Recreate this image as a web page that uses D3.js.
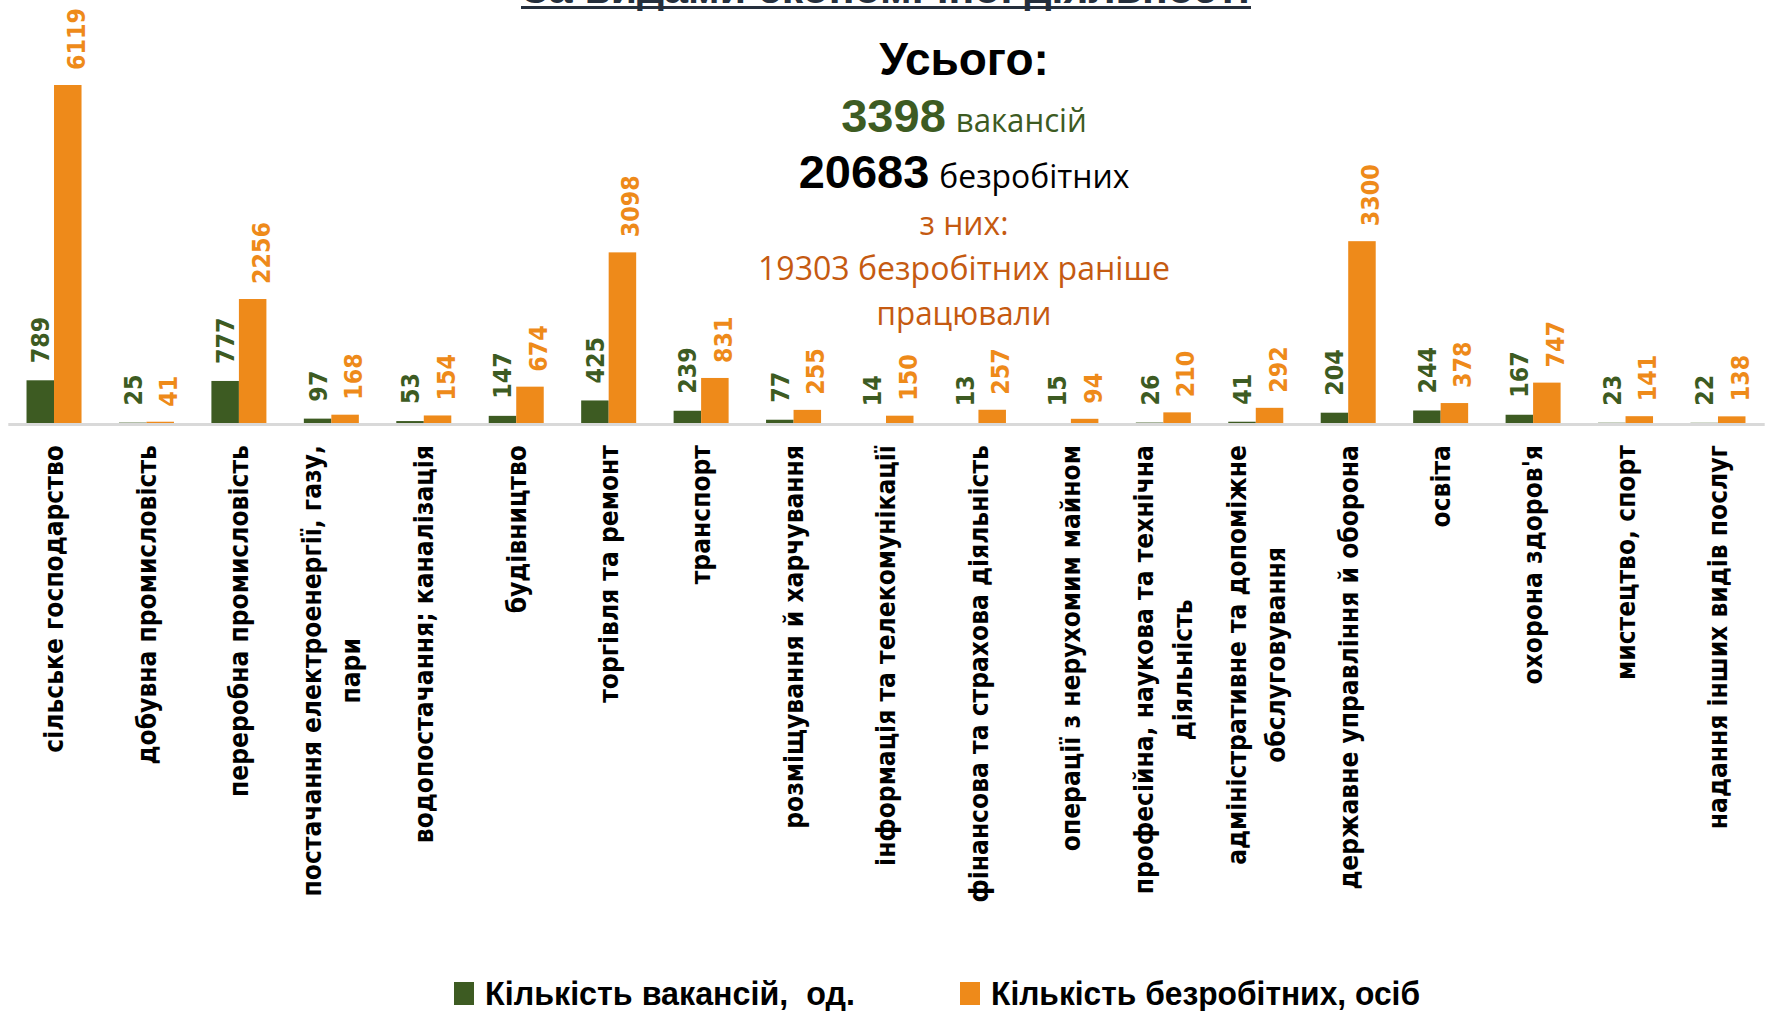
<!DOCTYPE html>
<html>
<head>
<meta charset="utf-8">
<script src="https://cdn.jsdelivr.net/npm/d3@7"></script>
<style>
  body { margin: 0; background: #fff; }
  svg { display: block; }
</style>
</head>
<body>
<div id="chart"></div>
<script>
// data
const categories = [
  "сільське господарство",
  "добувна промисловість",
  "переробна промисловість",
  "постачання електроенергії, газу,\nпари",
  "водопостачання; каналізація",
  "будівництво",
  "торгівля та ремонт",
  "транспорт",
  "розміщування й харчування",
  "інформація та телекомунікації",
  "фінансова та страхова діяльність",
  "операції з нерухомим майном",
  "професійна, наукова та технічна\nдіяльність",
  "адміністративне та допоміжне\nобслуговування",
  "державне управління й оборона",
  "освіта",
  "охорона здоров'я",
  "мистецтво, спорт",
  "надання інших видів послуг"
];
const vacancies = [789, 25, 777, 97, 53, 147, 425, 239, 77, 14, 13, 15, 26, 41, 204, 244, 167, 23, 22];
const unemployed = [6119, 41, 2256, 168, 154, 674, 3098, 831, 255, 150, 257, 94, 210, 292, 3300, 378, 747, 141, 138];
const seriesNames = ["Кількість вакансій,  од.", "Кількість безробітних, осіб"];

const totalVacancies = 3398;
const totalUnemployed = 20683;
const previouslyWorked = 19303;
const title = "За видами економічної діяльності";

const W = 1774, H = 1011;
const colors = ["#3d5b22", "#ee8a1a"];
const orangeDark = "#c55a11";
const series = [vacancies, unemployed];

const svg = d3.select("#chart").append("svg")
  .attr("width", W)
  .attr("height", H)
  .style("background", "#fff");

const baseY = 424;
const x0 = d3.scaleBand()
  .domain(d3.range(categories.length))
  .range([7.8, 1764.2])
  .paddingInner(0.405)
  .paddingOuter(0.2025);
const x1 = d3.scaleBand()
  .domain([0, 1])
  .range([0, x0.bandwidth()]);
const y = d3.scaleLinear()
  .domain([0, 7000])
  .range([baseY, baseY - 7000 * 0.0554]);

// title, mostly cut off by the top edge
svg.append("text")
  .attr("x", 886)
  .attr("y", 3)
  .attr("text-anchor", "middle")
  .attr("textLength", 728)
  .attr("lengthAdjust", "spacingAndGlyphs")
  .style("font-family", "'Liberation Sans', Arial, sans-serif")
  .style("font-weight", "bold")
  .style("font-size", "40px")
  .style("fill", "#252f3c")
  .text(title);
svg.append("rect")
  .attr("x", 521).attr("y", 6)
  .attr("width", 730).attr("height", 3)
  .attr("fill", "#252f3c");

// bars
series.forEach((vals, s) => {
  svg.append("g").selectAll("rect")
    .data(vals)
    .join("rect")
    .attr("x", (d, i) => x0(i) + x1(s))
    .attr("y", d => y(d))
    .attr("width", x1.bandwidth())
    .attr("height", d => baseY - y(d))
    .attr("fill", colors[s]);
});

// axis line
const axis = svg.append("g")
  .attr("transform", `translate(0,${baseY})`)
  .call(d3.axisBottom(x0).tickSize(0).tickSizeOuter(0).tickFormat(""));
axis.select(".domain")
  .attr("stroke", "#d9d9d9")
  .attr("stroke-width", 3);

// value labels
const labelDx = [0, 8];
const labelGap = [17, 15];
series.forEach((vals, s) => {
  svg.append("g").selectAll("text")
    .data(vals)
    .join("text")
    .attr("transform", (d, i) => {
      const cx = x0(i) + x1(s) + x1.bandwidth() / 2 + labelDx[s];
      return `translate(${cx},${y(d) - labelGap[s]}) rotate(-90) scale(1,1.12)`;
    })
    .attr("dy", "0.36em")
    .attr("text-anchor", "start")
    .style("font-family", "'DejaVu Sans', Verdana, sans-serif")
    .style("font-weight", "bold")
    .style("font-size", "22.3px")
    .style("fill", colors[s])
    .text(d => d);
});

// category labels
const catTop = 445;
const lineH = 39;
categories.forEach((c, i) => {
  const lines = c.split("\n");
  const g = svg.append("g")
    .attr("transform", `translate(${x0(i) + x0.bandwidth() / 2},${catTop}) rotate(-90)`);
  const texts = g.selectAll("text")
    .data(lines)
    .join("text")
    .attr("dy", "0.36em")
    .attr("text-anchor", "middle")
    .style("font-family", "'DejaVu Sans', Verdana, sans-serif")
    .style("font-weight", "bold")
    .style("font-size", "23.5px")
    .style("fill", "#000")
    .text(d => d);
  let L = 0;
  texts.each(function () { L = Math.max(L, this.getComputedTextLength()); });
  texts.attr("transform", (d, k) =>
    `translate(${-L / 2},${(k - (lines.length - 1) / 2) * lineH}) scale(1,1.1)`);
});

// totals block
const cx = 964;
const bold = "'Liberation Sans', Arial, sans-serif";
const reg = "'Open Sans', 'Liberation Sans', sans-serif";

svg.append("text")
  .attr("x", cx).attr("y", 75)
  .attr("text-anchor", "middle")
  .style("font-family", bold).style("font-weight", "bold")
  .style("font-size", "46px").style("fill", "#000")
  .text("Усього:");

function totalLine(num, word, baseline, color, wordLen) {
  const t = svg.append("text")
    .attr("x", cx).attr("y", baseline)
    .attr("text-anchor", "middle")
    .style("fill", color);
  t.append("tspan")
    .style("font-family", bold).style("font-weight", "bold")
    .style("font-size", "47px")
    .text(num);
  t.append("tspan")
    .attr("dx", 10)
    .attr("textLength", wordLen)
    .attr("lengthAdjust", "spacingAndGlyphs")
    .style("font-family", reg)
    .style("font-size", "32px")
    .text(word);
}
totalLine(totalVacancies, "вакансій", 132, colors[0], 131);
totalLine(totalUnemployed, "безробітних", 188, "#000", 190);

const subLines = [
  ["з них:", 235, 89],
  [previouslyWorked + " безробітних раніше", 280, 412],
  ["працювали", 325, 175]
];
subLines.forEach(([t, yy, len]) => {
  svg.append("text")
    .attr("x", cx).attr("y", yy)
    .attr("text-anchor", "middle")
    .attr("textLength", len)
    .attr("lengthAdjust", "spacingAndGlyphs")
    .style("font-family", reg)
    .style("font-size", "32px")
    .style("fill", orangeDark)
    .text(t);
});

// legend
const legendX = [454, 960];
const legendLen = [370, 429];
seriesNames.forEach((name, s) => {
  const lg = svg.append("g").attr("transform", `translate(${legendX[s]},982)`);
  lg.append("rect")
    .attr("width", 20).attr("height", 23)
    .attr("fill", colors[s]);
  lg.append("text")
    .attr("x", 31).attr("y", 23)
    .attr("textLength", legendLen[s])
    .attr("lengthAdjust", "spacingAndGlyphs")
    .style("white-space", "pre")
    .style("font-family", "'Liberation Sans Narrow', 'Liberation Sans', sans-serif")
    .style("font-weight", "bold")
    .style("font-size", "33px")
    .style("fill", "#000")
    .text(name);
});
</script>
</body>
</html>
